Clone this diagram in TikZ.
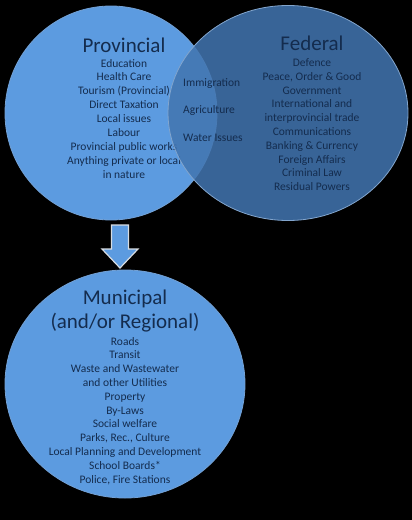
\documentclass[tikz,border=0pt]{standalone}
\usepackage{fontspec}
\setmainfont{Carlito}
\usetikzlibrary{shapes.geometric,calc}
\definecolor{provblue}{RGB}{92,155,224}
\definecolor{fedblue}{RGB}{66,117,176}
\definecolor{rimblue}{RGB}{130,165,205}
\definecolor{navy}{RGB}{20,44,78}
\definecolor{arrowrim}{RGB}{215,220,226}
\tikzset{
  circ/.style={ellipse, inner sep=0pt, line width=0.8pt},
  head/.style={anchor=base, inner sep=0pt, text=navy, font=\fontsize{21}{24}\selectfont},
  body/.style={anchor=base, inner sep=0pt, text=navy, font=\fontsize{11.5}{13.8}\selectfont},
  mid/.style={anchor=base west, inner sep=0pt, text=navy, font=\fontsize{11.5}{13.8}\selectfont},
}
\begin{document}
\begin{tikzpicture}[x=1pt,y=-1pt]
\fill[black] (0,0) rectangle (412,520);
\useasboundingbox (0,0) rectangle (412,520);
% Provincial
\node[circ, fill=provblue, draw=rimblue!60!provblue, minimum width=212pt, minimum height=214pt] (prov) at (111,113) {};
\node[head] (provhead) at (124,52) {Provincial};
\foreach \t [count=\i] in {Education, Health Care, Tourism (Provincial), Direct Taxation, Local issues, Labour, Provincial public works, Anything private or local, in nature}
  \node[body] (p\i) at (124,{67+13.9*(\i-1)}) {\t};
% Federal
\node[circ, fill=fedblue, fill opacity=0.86, draw=rimblue, minimum width=240pt, minimum height=215pt] (fed) at (288,113) {};
\node[head] (fedhead) at (312,50) {Federal};
\foreach \t [count=\i] in {Defence, {Peace, Order \& Good}, Government, International and, interprovincial trade, Communications, Banking \& Currency, Foreign Affairs, Criminal Law, Residual Powers}
  \node[body] (f\i) at (312,{66.5+13.8*(\i-1)}) {\t};
% shared
\node[mid] (imm) at (183,86) {Immigration};
\node[mid] (agr) at (183,113) {Agriculture};
\node[mid] (wat) at (183,141) {Water Issues};
% Municipal
\node[circ, fill=provblue, draw=rimblue!60!provblue, minimum width=240pt, minimum height=228pt] (muni) at (125,384) {};
\node[head] (munihead1) at (125,304) {Municipal};
\node[head] (munihead2) at (125,328) {(and/or Regional)};
\foreach \t [count=\i] in {Roads, Transit, Waste and Wastewater, and other Utilities, Property, By-Laws, Social welfare, {Parks, Rec., Culture}, Local Planning and Development, School Boards*, {Police, Fire Stations}}
  \node[body] (m\i) at (125,{345+13.8*(\i-1)}) {\t};
% arrow
\coordinate (atop) at (120,225);
\coordinate (atip) at (120,268);
\filldraw[fill=provblue, draw=arrowrim, line width=1.2pt, line join=miter]
  ($(atop)+(-8.5,0)$) -- ($(atop)+(8.5,0)$) -- (128.5,249) -- (138,249) -- (atip) -- (102,249) -- (111.5,249) -- cycle;
\end{tikzpicture}
\end{document}
